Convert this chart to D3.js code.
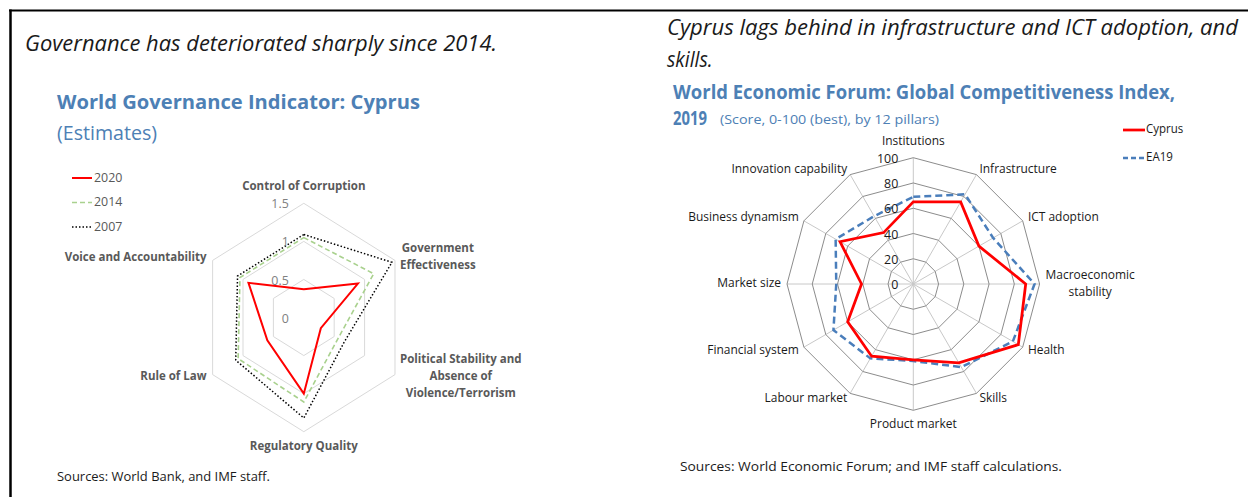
<!DOCTYPE html>
<html><head><meta charset="utf-8">
<script src="https://cdn.jsdelivr.net/npm/d3@7"></script>
<style>
html,body{margin:0;padding:0;background:#fff;}
svg{display:block;font-family:"Open Sans","Noto Sans",sans-serif;}
</style></head><body>
<svg id="c" width="1248" height="497"></svg>
<script>
// ---------------- DATA ----------------
const wgiCategories = ["Control of Corruption", "Government\nEffectiveness", "Political Stability and\nAbsence of\nViolence/Terrorism", "Regulatory Quality", "Rule of Law", "Voice and Accountability"];
const wgiYears = ["2020", "2014", "2007"];
const wgi2020 = [0.37, 0.89, 0.28, 1.00, 0.60, 0.91];
const wgi2014 = [1.05, 1.15, 0.56, 1.11, 1.08, 1.05];
const wgi2007 = [1.09, 1.45, 0.66, 1.32, 1.12, 1.09];
const wgiTicks = [0, 0.5, 1, 1.5];
const wgiTickLabels = ["0", "0.5", "1", "1.5"];

const gciCategories = ["Institutions", "Infrastructure", "ICT adoption", "Macroeconomic\nstability", "Health", "Skills", "Product market", "Labour market", "Financial system", "Market size", "Business dynamism", "Innovation capability"];
const gciSeriesNames = ["Cyprus", "EA19"];
const gciCyprus = [65, 75, 60, 89, 96, 72, 60, 66, 60, 41, 67, 47];
const gciEA19 = [69, 82, 73, 96, 91, 76, 61, 68, 73, 61, 71, 62];
const gciTicks = [0, 20, 40, 60, 80, 100];

// ---------------- SETUP ----------------
const svg = d3.select("#c");
svg.append("rect").attr("width", 1248).attr("height", 497).attr("fill", "#fff");
const BLUE = "#4d80b5";
const COND = 0.92;
function condense(sel) {
  sel.each(function () {
    const L = this.getComputedTextLength();
    d3.select(this).attr("textLength", L * COND).attr("lengthAdjust", "spacingAndGlyphs");
  });
  return sel;
}
function txt(x, y, s, o) {
  o = o || {};
  const t = svg.append("text").attr("x", x).attr("y", y).text(s)
    .attr("font-size", o.size || 13)
    .attr("fill", o.fill || "#1a1a1a")
    .attr("font-weight", o.weight || "normal")
    .attr("font-style", o.style || "normal")
    .attr("text-anchor", o.anchor || "start");
  if (o.mid) t.attr("dominant-baseline", "middle");
  if (o.width) t.attr("textLength", o.width).attr("lengthAdjust", "spacingAndGlyphs");
  else condense(t);
  return t;
}

// frame
svg.append("line").attr("x1", 9).attr("x2", 1248).attr("y1", 10.5).attr("y2", 10.5).attr("stroke", "#000").attr("stroke-width", 2);
svg.append("line").attr("x1", 10.5).attr("x2", 10.5).attr("y1", 9.5).attr("y2", 497).attr("stroke", "#000").attr("stroke-width", 2.5);

// ---------------- LEFT PANEL ----------------
txt(25, 51, "Governance has deteriorated sharply since 2014.", {size: 21, style: "italic", width: 472});
txt(57, 109, "World Governance Indicator: Cyprus", {size: 20, weight: "bold", fill: BLUE, width: 363});
txt(57, 140, "(Estimates)", {size: 20, fill: BLUE, width: 100});
txt(57, 481, "Sources: World Bank, and IMF staff.", {size: 13, width: 213});

const L = {cx: 303.8, cy: 317.5, sx: 0.922};
const rL = d3.scaleLinear().domain([0, 1.5]).range([0, 114.2]);
const aL = d3.scalePoint().domain(d3.range(wgiCategories.length)).range([0, 2 * Math.PI * (wgiCategories.length - 1) / wgiCategories.length]);
function ptL(i, v) {
  const a = aL(i), r = rL(v);
  return [L.cx + L.sx * r * Math.sin(a), L.cy - r * Math.cos(a)];
}
const lineClosed = d3.line().curve(d3.curveLinearClosed);
const gL = svg.append("g");
// rings
wgiTicks.filter(t => t > 0).forEach(t => {
  gL.append("path").attr("d", lineClosed(wgiCategories.map((c, i) => ptL(i, t))))
    .attr("fill", "none").attr("stroke", "#d9d9d9").attr("stroke-width", 1);
});
// tick labels
wgiTicks.forEach((t, k) => {
  txt(L.cx - 15, L.cy - rL(t) + 1.5, wgiTickLabels[k], {size: 13.5, fill: "#808080", anchor: "end", mid: true});
});
// series
const wgiStyles = [
  {data: wgi2007, stroke: "#000", w: 1.5, dash: "1.5,2"},
  {data: wgi2014, stroke: "#a9d18e", w: 1.6, dash: "5,3"},
  {data: wgi2020, stroke: "#ff0000", w: 2, dash: null}
];
wgiStyles.forEach(s => {
  gL.append("path").attr("d", lineClosed(s.data.map((v, i) => ptL(i, v))))
    .attr("fill", "none").attr("stroke", s.stroke).attr("stroke-width", s.w)
    .attr("stroke-dasharray", s.dash).attr("stroke-linejoin", "miter");
});
// category labels
function multiLabel(lines, x, yc, anchor, lh, o) {
  const els = lines.map((ln, k) => txt(0, yc + (k - (lines.length - 1) / 2) * lh, ln, Object.assign({mid: true, anchor: "middle"}, o)));
  const maxW = d3.max(els, e => +e.attr("textLength"));
  let xc = x;
  if (anchor === "start") xc = x + maxW / 2;
  else if (anchor === "end") xc = x - maxW / 2;
  els.forEach(e => e.attr("x", xc));
}
const labO = {size: 12.5, weight: "bold", fill: "#595959"};
wgiCategories.forEach((c, i) => {
  const a = aL(i), s = Math.sin(a), co = Math.cos(a);
  const p = ptL(i, 1.5);
  const lines = c.split("\n");
  if (Math.abs(s) < 0.01) {
    multiLabel(lines, p[0], p[1] + (co > 0 ? -16.5 : 15), "middle", 17, labO);
  } else {
    multiLabel(lines, p[0] + (s > 0 ? 5 : -6), p[1] + (co > 0 ? -3 : 2.5), s > 0 ? "start" : "end", 17, labO);
  }
});
// legend
wgiYears.forEach((y, k) => {
  const st = wgiStyles[2 - k];
  const yy = 178 + k * 24.5;
  svg.append("line").attr("x1", 72).attr("x2", 92).attr("y1", yy).attr("y2", yy)
    .attr("stroke", st.stroke).attr("stroke-width", st.w).attr("stroke-dasharray", st.dash);
  txt(94, yy, y, {size: 13.5, fill: "#595959", mid: true});
});

// ---------------- RIGHT PANEL ----------------
txt(667, 35, "Cyprus lags behind in infrastructure and ICT adoption, and", {size: 21, style: "italic", width: 571});
txt(667, 67, "skills.", {size: 21, style: "italic"});
txt(673, 99, "World Economic Forum: Global Competitiveness Index,", {size: 19, weight: "bold", fill: BLUE, width: 502});
txt(673, 125, "2019", {size: 19, weight: "bold", fill: BLUE, width: 34});
txt(720, 124, "(Score, 0-100 (best), by 12 pillars)", {size: 13.5, fill: BLUE, width: 219});
txt(680, 471, "Sources: World Economic Forum; and IMF staff calculations.", {size: 13, width: 382});

const Rt = {cx: 913.3, cy: 284};
const rR = d3.scaleLinear().domain([0, 100]).range([0, 126.3]);
const aR = d3.scalePoint().domain(d3.range(gciCategories.length)).range([0, 2 * Math.PI * (gciCategories.length - 1) / gciCategories.length]);
function ptR(i, v) {
  const a = aR(i), r = rR(v);
  return [Rt.cx + r * Math.sin(a), Rt.cy - r * Math.cos(a)];
}
const gR = svg.append("g");
// spokes
gciCategories.forEach((c, i) => {
  const p = ptR(i, 100);
  gR.append("line").attr("x1", Rt.cx).attr("y1", Rt.cy).attr("x2", p[0]).attr("y2", p[1])
    .attr("stroke", "#c8c8c8").attr("stroke-width", 1);
});
// rings
gciTicks.filter(t => t > 0).forEach(t => {
  gR.append("path").attr("d", lineClosed(gciCategories.map((c, i) => ptR(i, t))))
    .attr("fill", "none").attr("stroke", "#8c8c8c").attr("stroke-width", 1);
});
// series
const gciStyles = [
  {data: gciEA19, stroke: "#4a7ebb", w: 2.5, dash: "7,4"},
  {data: gciCyprus, stroke: "#ff0000", w: 2.75, dash: null}
];
gciStyles.forEach(s => {
  gR.append("path").attr("d", lineClosed(s.data.map((v, i) => ptR(i, v))))
    .attr("fill", "none").attr("stroke", s.stroke).attr("stroke-width", s.w)
    .attr("stroke-dasharray", s.dash).attr("stroke-linejoin", "miter");
});
// tick labels
gciTicks.forEach(t => {
  txt(Rt.cx - 15, Rt.cy - rR(t) + 1.5, String(t), {size: 13.5, fill: "#1a1a1a", anchor: "end", mid: true});
});
// category labels
const labR = {size: 13, fill: "#1a1a1a"};
gciCategories.forEach((c, i) => {
  const a = aR(i), s = Math.sin(a), co = Math.cos(a);
  const p = ptR(i, 100 + 6 / 1.263);
  const lines = c.split("\n");
  if (Math.abs(s) < 0.01) {
    multiLabel(lines, p[0], p[1] + (co > 0 ? -10.5 : 8), "middle", 17, labR);
  } else {
    multiLabel(lines, p[0], p[1], s > 0 ? "start" : "end", 17, labR);
  }
});
// legend
gciSeriesNames.forEach((n, k) => {
  const st = gciStyles[1 - k];
  const yy = 130 + k * 28;
  svg.append("line").attr("x1", 1123).attr("x2", 1145).attr("y1", yy).attr("y2", yy)
    .attr("stroke", st.stroke).attr("stroke-width", st.w).attr("stroke-dasharray", k ? "5,3" : null);
  txt(1146, yy, n, {size: 12.5, fill: "#1a1a1a", mid: true});
});
</script>
</body></html>
